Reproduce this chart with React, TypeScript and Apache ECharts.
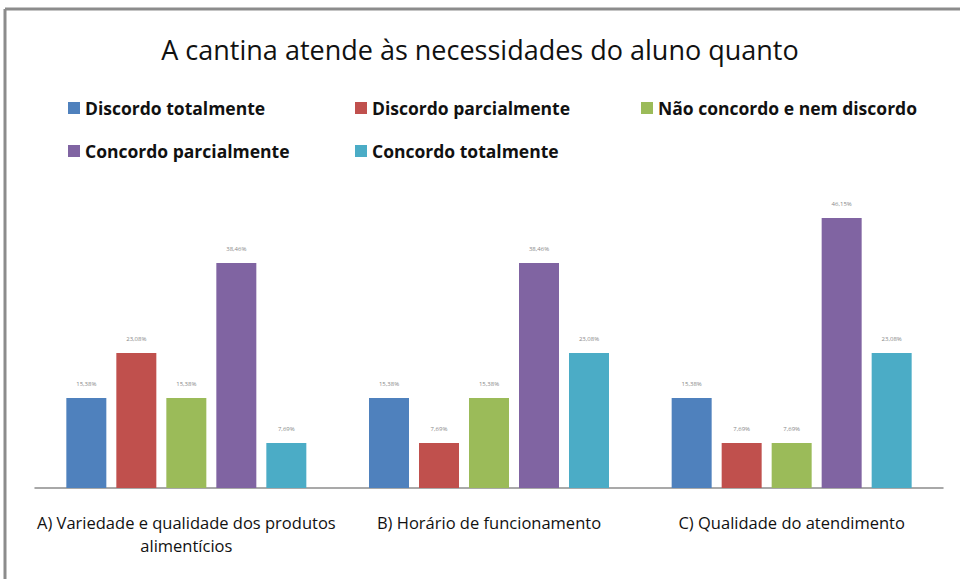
import React, { useEffect, useRef } from "react";
import * as echarts from "echarts";

const categories = [
  "A) Variedade e qualidade dos produtos\nalimentícios",
  "B) Horário de funcionamento",
  "C) Qualidade do atendimento",
];
const seriesNames = [
  "Discordo totalmente",
  "Discordo parcialmente",
  "Não concordo e nem discordo",
  "Concordo parcialmente",
  "Concordo totalmente",
];
const discordoTotalmente = [15.38, 15.38, 15.38];
const discordoParcialmente = [23.08, 7.69, 7.69];
const naoConcordo = [15.38, 15.38, 7.69];
const concordoParcialmente = [38.46, 38.46, 46.15];
const concordoTotalmente = [7.69, 23.08, 23.08];
const colors = ["#4F81BD", "#C0504D", "#9BBB59", "#8064A2", "#4BACC6"];

const FONT = "'Open Sans', 'Noto Sans', sans-serif";

export default function App() {
  const ref = useRef<HTMLDivElement>(null);
  useEffect(() => {
    document.body.style.margin = "0";
    if (!ref.current) return;
    const chart = echarts.init(ref.current, null, { renderer: "svg" });
    const values = [
      discordoTotalmente,
      discordoParcialmente,
      naoConcordo,
      concordoParcialmente,
      concordoTotalmente,
    ];
    const legendPos = [
      [68, 99],
      [355, 99],
      [641, 99],
      [68, 142],
      [355, 142],
    ];
    const legends = seriesNames.map((name, i) => ({
      data: [name],
      left: legendPos[i][0],
      top: legendPos[i][1],
      padding: 0,
      itemWidth: 12,
      itemHeight: 12,
      itemTextGap: 7,
      icon: "rect",
      textStyle: {
        fontFamily: FONT,
        fontSize: 17.5,
        fontWeight: "bold",
        color: "#111",
      },
    }));
    chart.setOption({
      animation: false,
      backgroundColor: "#fff",
      color: colors,
      title: {
        text: "A cantina atende às necessidades do aluno quanto",
        left: "center",
        top: 31,
        textStyle: { fontFamily: FONT, fontSize: 27, fontWeight: "normal", color: "#111" },
      },
      legend: legends,
      grid: { left: 35, right: 17, top: 195.5, bottom: 91, containLabel: false },
      xAxis: {
        type: "category",
        data: categories,
        axisLine: { lineStyle: { color: "#8c8c8c", width: 1.5 } },
        axisTick: { show: false },
        axisLabel: {
          interval: 0,
          margin: 23,
          fontFamily: FONT,
          fontSize: 16.5,
          color: "#111",
          lineHeight: 23,
        },
      },
      yAxis: {
        type: "value",
        min: 0,
        max: 50,
        show: false,
        splitLine: { show: false },
      },
      series: seriesNames.map((name, i) => ({
        name,
        type: "bar",
        data: values[i],
        barWidth: 40,
        barGap: "25%",
        itemStyle: { color: colors[i] },
        label: {
          show: true,
          position: "top",
          distance: 11,
          fontSize: 6,
          color: "#888",
          fontFamily: FONT,
          formatter: (p: any) => p.value.toFixed(2).replace(".", ",") + "%",
        },
      })),
      graphic: [
        { type: "line", shape: { x1: 5, y1: 9, x2: 960, y2: 9 }, style: { stroke: "#8c8c8c", lineWidth: 3 } },
        { type: "line", shape: { x1: 5, y1: 9, x2: 5, y2: 579 }, style: { stroke: "#8c8c8c", lineWidth: 3 } },
      ],
    });
    return () => chart.dispose();
  }, []);
  return <div ref={ref} style={{ width: 960, height: 579 }} />;
}
